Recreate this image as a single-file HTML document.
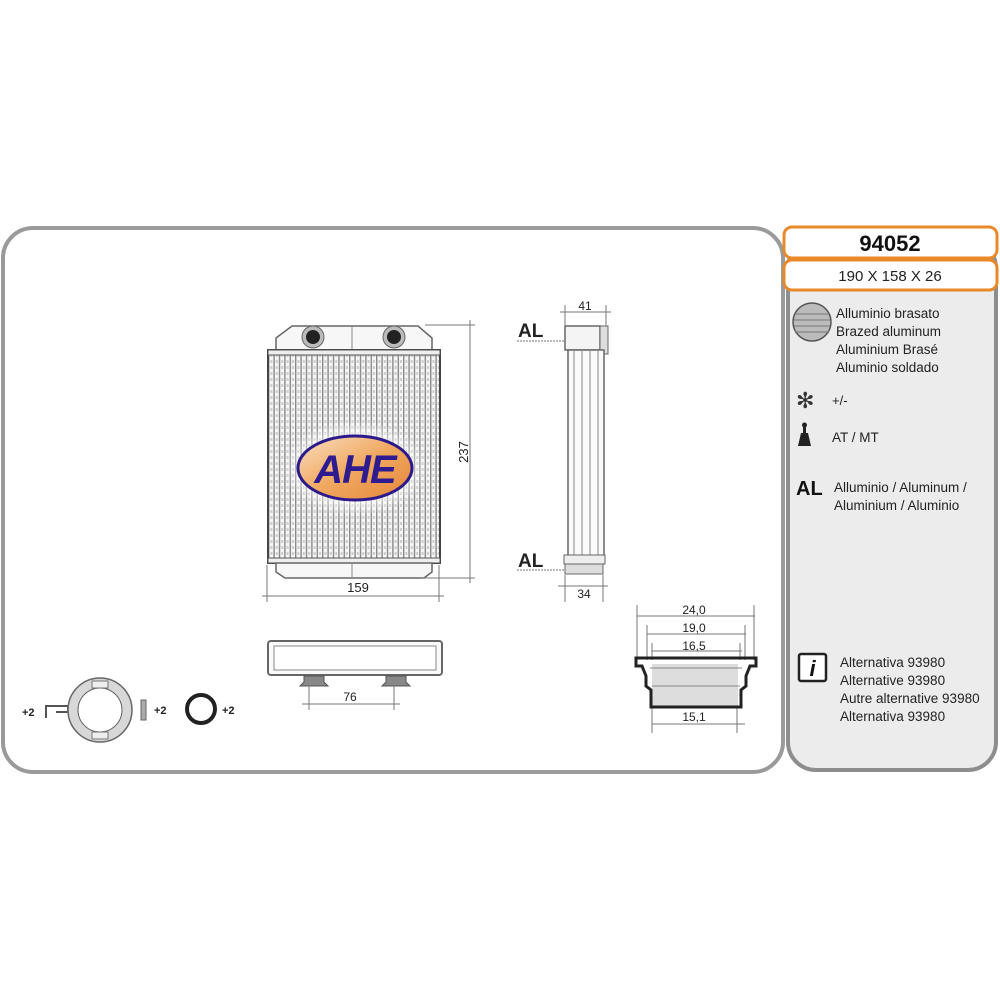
<!DOCTYPE html>
<html><head><meta charset="utf-8"><style>
html,body{margin:0;padding:0;background:#fff}
svg{display:block}
text{font-family:"Liberation Sans",sans-serif}
</style></head><body>
<svg width="1000" height="1000" viewBox="0 0 1000 1000" xmlns="http://www.w3.org/2000/svg" fill="#222">
<defs>
<pattern id="fins" x="268" y="0" width="5.4" height="6" patternUnits="userSpaceOnUse">
<rect width="5.4" height="6" fill="#f6f6f6"/>
<rect x="0" width="1.4" height="6" fill="#888"/>
<rect x="2.4" y="0" width="2" height="3" fill="#ccc"/>
</pattern>
<radialGradient id="glow" cx="0.5" cy="0.5" r="0.5">
<stop offset="0" stop-color="#fff" stop-opacity="1"/>
<stop offset="0.6" stop-color="#fff" stop-opacity="0.8"/>
<stop offset="1" stop-color="#fff" stop-opacity="0"/>
</radialGradient>
<linearGradient id="og" x1="0" y1="0" x2="1" y2="1">
<stop offset="0" stop-color="#fbe0c4"/><stop offset="0.5" stop-color="#f0a860"/><stop offset="1" stop-color="#e5873a"/>
</linearGradient>
</defs>
<rect x="3" y="228" width="780" height="544" rx="30" fill="#fff" stroke="#9a9a9a" stroke-width="4"/>
<rect x="788" y="240" width="208" height="530" rx="28" fill="#ececec" stroke="#8d8d8d" stroke-width="4"/>
<rect x="784" y="227" width="213" height="31" rx="8" fill="#fff" stroke="#e8892a" stroke-width="3"/>
<rect x="784" y="260" width="213" height="30" rx="8" fill="#fff" stroke="#e8892a" stroke-width="3"/>
<text x="890" y="251" font-size="22" font-weight="bold" text-anchor="middle" fill="#111">94052</text>
<text x="890" y="281" font-size="15" text-anchor="middle">190 X 158 X 26</text>

<circle cx="812" cy="322" r="19" fill="#bbb" stroke="#555" stroke-width="1.5"/>
<g stroke="#777" stroke-width="1"><line x1="795" y1="314" x2="829" y2="314"/><line x1="794" y1="320" x2="830" y2="320"/><line x1="794" y1="326" x2="830" y2="326"/><line x1="795" y1="332" x2="829" y2="332"/></g>
<g font-size="13.5"><text x="836" y="318">Alluminio brasato</text><text x="836" y="336">Brazed aluminum</text><text x="836" y="354">Aluminium Brasé</text><text x="836" y="372">Aluminio soldado</text></g>
<text x="796" y="408" font-size="22" fill="#333">✻</text>
<text x="832" y="405" font-size="13">+/-</text>
<rect x="803" y="424" width="3" height="10" fill="#222"/><circle cx="804.5" cy="425" r="2.5" fill="#222"/><path d="M798 446 L811 446 L808 433 L801 433Z" fill="#222"/>
<text x="832" y="442" font-size="13.5">AT / MT</text>
<text x="796" y="495" font-size="20" font-weight="bold" fill="#111">AL</text>
<g font-size="13.5"><text x="834" y="492">Alluminio  / Aluminum /</text><text x="834" y="510">Aluminium / Aluminio</text></g>
<rect x="799" y="654" width="27" height="27" rx="2" fill="#fff" stroke="#222" stroke-width="2.5"/>
<text x="812.5" y="676" font-size="22" font-style="italic" font-weight="bold" text-anchor="middle" font-family="Liberation Serif,serif" fill="#111">i</text>
<g font-size="13.5"><text x="840" y="667">Alternativa 93980</text><text x="840" y="685">Alternative 93980</text><text x="840" y="703">Autre alternative 93980</text><text x="840" y="721">Alternativa 93980</text></g>

<path d="M276 352 L276 338 L292 326 L418 326 L432 338 L432 352Z" fill="#f7f7f7" stroke="#666" stroke-width="1.5"/>
<line x1="352" y1="326" x2="352" y2="352" stroke="#888"/>
<circle cx="313" cy="337" r="11" fill="#bbb" stroke="#666"/><circle cx="313" cy="337" r="7" fill="#222"/>
<circle cx="394" cy="337" r="11" fill="#bbb" stroke="#666"/><circle cx="394" cy="337" r="7" fill="#222"/>
<rect x="268" y="350" width="172" height="213" fill="url(#fins)" stroke="#444" stroke-width="2"/>
<rect x="268" y="350" width="172" height="5" fill="#eee" stroke="#555"/>
<rect x="268" y="558" width="172" height="5" fill="#eee" stroke="#555"/>
<path d="M276 563 L276 572 L285 578 L424 578 L432 572 L432 563Z" fill="#f7f7f7" stroke="#666" stroke-width="1.5"/>
<line x1="352" y1="563" x2="352" y2="578" stroke="#888"/>
<ellipse cx="355" cy="468" rx="72" ry="48" fill="url(#glow)"/>
<ellipse cx="355" cy="468" rx="57" ry="32" fill="url(#og)" stroke="#2c1a8a" stroke-width="3"/>
<text x="355" y="483" font-size="40" font-weight="bold" font-style="italic" text-anchor="middle" fill="#2d1b8f" letter-spacing="-1">AHE</text>
<g stroke="#777" stroke-width="1" fill="none">
<line x1="425" y1="325" x2="475" y2="325"/><line x1="420" y1="578" x2="475" y2="578"/><line x1="470" y1="320" x2="470" y2="583"/>
<line x1="267" y1="565" x2="267" y2="602"/><line x1="439" y1="565" x2="439" y2="602"/><line x1="262" y1="596" x2="444" y2="596"/>
</g>
<text x="468" y="452" font-size="13" text-anchor="middle" transform="rotate(-90 468 452)">237</text>
<text x="358" y="592" font-size="13" text-anchor="middle">159</text>

<text x="518" y="337" font-size="19" font-weight="bold" fill="#222">AL</text>
<text x="518" y="567" font-size="19" font-weight="bold" fill="#222">AL</text>
<line x1="517" y1="341" x2="568" y2="341" stroke="#777" stroke-dasharray="2,1"/>
<line x1="517" y1="570" x2="568" y2="570" stroke="#777" stroke-dasharray="2,1"/>
<rect x="565" y="326" width="35" height="24" fill="#f4f4f4" stroke="#666" stroke-width="1.5"/>
<rect x="600" y="326" width="8" height="28" fill="#ddd" stroke="#666"/>
<rect x="568" y="350" width="36" height="208" fill="#fafafa" stroke="#666" stroke-width="1.5"/>
<line x1="574" y1="350" x2="574" y2="558" stroke="#888"/><line x1="582" y1="350" x2="582" y2="558" stroke="#888"/><line x1="590" y1="350" x2="590" y2="558" stroke="#888"/><line x1="598" y1="350" x2="598" y2="558" stroke="#888"/>
<rect x="564" y="555" width="41" height="9" fill="#eee" stroke="#666"/>
<rect x="565" y="564" width="38" height="10" fill="#ddd" stroke="#666"/>
<g stroke="#777" stroke-width="1"><line x1="565" y1="305" x2="565" y2="326"/><line x1="606" y1="305" x2="606" y2="326"/><line x1="560" y1="312" x2="611" y2="312"/>
<line x1="565" y1="575" x2="565" y2="602"/><line x1="603" y1="575" x2="603" y2="602"/><line x1="558" y1="586" x2="608" y2="586"/></g>
<text x="585" y="310" font-size="12" text-anchor="middle">41</text>
<text x="584" y="598" font-size="12" text-anchor="middle">34</text>

<rect x="268" y="641" width="174" height="34" rx="3" fill="#fafafa" stroke="#666" stroke-width="2"/>
<rect x="274" y="646" width="162" height="24" fill="#fff" stroke="#888"/>
<path d="M304 676 L304 682 L300 686 L328 686 L324 682 L324 676Z" fill="#888" stroke="#555"/>
<path d="M386 676 L386 682 L382 686 L410 686 L406 682 L406 676Z" fill="#888" stroke="#555"/>
<g stroke="#777"><line x1="309" y1="686" x2="309" y2="710"/><line x1="394" y1="686" x2="394" y2="710"/><line x1="302" y1="704" x2="400" y2="704"/></g>
<text x="350" y="701" font-size="12" text-anchor="middle">76</text>

<text x="22" y="716" font-size="11" font-weight="bold">+2</text>
<path d="M46 718 L46 706 L68 706 L68 712 L56 712" fill="none" stroke="#555" stroke-width="2"/>
<circle cx="100" cy="710" r="32" fill="#d8d8d8" stroke="#666" stroke-width="1.5"/>
<circle cx="100" cy="710" r="22" fill="#fff" stroke="#666"/>
<g fill="#eee" stroke="#777"><rect x="92" y="681" width="16" height="7"/><rect x="92" y="732" width="16" height="7"/></g>
<rect x="141" y="700" width="5" height="20" fill="#aaa" stroke="#666"/>
<text x="154" y="714" font-size="11" font-weight="bold">+2</text>
<circle cx="201" cy="709" r="14" fill="none" stroke="#222" stroke-width="4"/>
<text x="222" y="714" font-size="11" font-weight="bold">+2</text>

<g stroke="#777" stroke-width="1">
<line x1="637" y1="605" x2="637" y2="660"/><line x1="754" y1="605" x2="754" y2="660"/><line x1="637" y1="616" x2="755" y2="616"/>
<line x1="647" y1="625" x2="647" y2="660"/><line x1="745" y1="625" x2="745" y2="660"/><line x1="647" y1="634" x2="746" y2="634"/>
<line x1="652" y1="643" x2="652" y2="660"/><line x1="740" y1="643" x2="740" y2="660"/><line x1="652" y1="651" x2="742" y2="651"/>
<line x1="652" y1="705" x2="652" y2="733"/><line x1="737" y1="705" x2="737" y2="733"/><line x1="652" y1="724" x2="745" y2="724"/>
</g>
<text x="694" y="614" font-size="12" text-anchor="middle">24,0</text>
<text x="694" y="632" font-size="12" text-anchor="middle">19,0</text>
<text x="694" y="650" font-size="12" text-anchor="middle">16,5</text>
<text x="694" y="721" font-size="12" text-anchor="middle">15,1</text>
<rect x="652" y="664" width="86" height="42" fill="#ddd"/>
<path d="M636 658 L756 658 L756 666 L750 666 L746 676 L746 686 L741 690 L741 707 L651 707 L651 690 L646 686 L646 676 L642 666 L636 666Z" fill="none" stroke="#222" stroke-width="3"/>
<line x1="650" y1="668" x2="742" y2="668" stroke="#888"/><line x1="652" y1="686" x2="740" y2="686" stroke="#888"/>
</svg>
</body></html>
